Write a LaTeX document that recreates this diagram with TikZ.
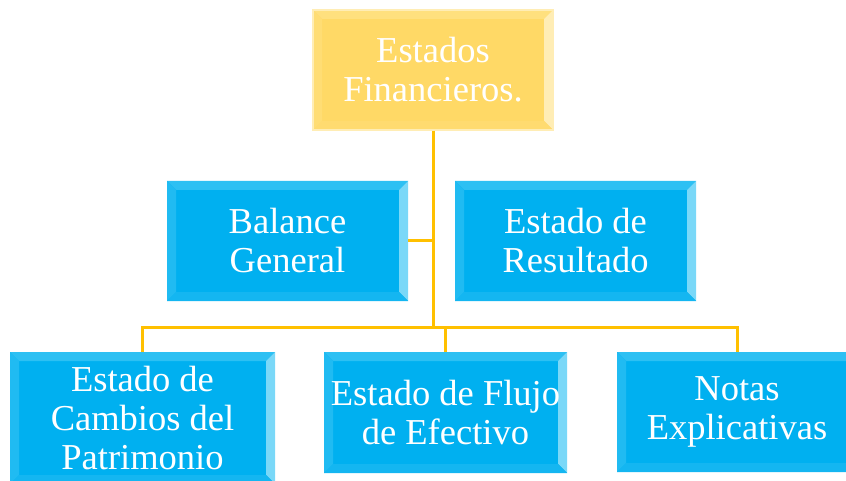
\documentclass[tikz,border=0pt]{standalone}
\usepackage{fontspec}
\setmainfont{Liberation Serif}
\usetikzlibrary{positioning}
\definecolor{azul}{HTML}{00B0F0}
\definecolor{azulclaro}{HTML}{2DC0F3}
\definecolor{azulbrillo}{HTML}{7AD8F8}
\definecolor{azulmedio}{HTML}{14B6F1}
\definecolor{amarillo}{HTML}{FFD966}
\definecolor{amarilloclaro}{HTML}{FFE07E}
\definecolor{amarillobrillo}{HTML}{FFEDB5}
\definecolor{amarillomedio}{HTML}{FFDB70}
\definecolor{naranja}{HTML}{FFC000}

\begin{document}
\begin{tikzpicture}[x=1pt,y=-1pt]
\tikzstyle{every node}+=[inner sep=0pt]
\tikzstyle{caja}=[minimum width=240pt, minimum height=120pt, align=center, text=white, font=\fontsize{36.5}{39}\selectfont]
\tikzstyle{cajaazul}=[caja, fill=azul, path picture={
  \coordinate (bno) at (path picture bounding box.north west);
  \coordinate (bne) at (path picture bounding box.north east);
  \coordinate (bso) at (path picture bounding box.south west);
  \coordinate (bse) at (path picture bounding box.south east);
  \fill [azulclaro] (bno) -- (bne) -- ([shift={(-9,9)}]bne) -- ([shift={(9,9)}]bno) -- cycle;
  \fill [azulclaro!70!azul] (bno) -- (bso) -- ([shift={(9,-9)}]bso) -- ([shift={(9,9)}]bno) -- cycle;
  \fill [azulbrillo] (bne) -- (bse) -- ([shift={(-9,-9)}]bse) -- ([shift={(-9,9)}]bne) -- cycle;
  \fill [azulmedio] (bso) -- (bse) -- ([shift={(-9,-9)}]bse) -- ([shift={(9,-9)}]bso) -- cycle;
}]
\tikzstyle{cajaamarilla}=[caja, fill=amarillo, draw=amarillobrillo, line width=1.5pt, path picture={
  \coordinate (bno) at (path picture bounding box.north west);
  \coordinate (bne) at (path picture bounding box.north east);
  \coordinate (bso) at (path picture bounding box.south west);
  \coordinate (bse) at (path picture bounding box.south east);
  \fill [amarilloclaro] (bno) -- (bne) -- ([shift={(-9,9)}]bne) -- ([shift={(9,9)}]bno) -- cycle;
  \fill [amarilloclaro!60!amarillo] (bno) -- (bso) -- ([shift={(9,-9)}]bso) -- ([shift={(9,9)}]bno) -- cycle;
  \fill [amarillobrillo] (bne) -- (bse) -- ([shift={(-9,-9)}]bse) -- ([shift={(-9,9)}]bne) -- cycle;
  \fill [amarillomedio] (bso) -- (bse) -- ([shift={(-9,-9)}]bse) -- ([shift={(9,-9)}]bso) -- cycle;
}]
\tikzstyle{conector}=[draw=naranja, line width=3pt]
\useasboundingbox (0,0) rectangle (846,481);
% cajas
\node [cajaamarilla] (ef) at (433,70) {Estados\\Financieros.};
\node [cajaazul, minimum width=241pt] (bg) at (287.5,241) {Balance\\General};
\node [cajaazul, minimum width=241pt] (er) at (575.5,241) {Estado de\\Resultado};
\node [cajaazul, minimum width=265pt, minimum height=132pt] (cp) at (142.5,418) {Estado de\\Cambios del\\Patrimonio};
\node [cajaazul, minimum width=243pt, minimum height=121pt] (fe) at (445.5,412.5) {Estado de Flujo\\de Efectivo};
\node [cajaazul] (nt) at (737,412) {Notas\\Explicativas};
% conectores
\coordinate (cruce) at (433,327);
\draw [conector] (ef.south) -- (cruce);
\draw [conector] (bg.east) -- (bg.east -| cruce);
\draw [conector] (cp.north) |- (cruce) -| (nt.north);
\draw [conector] (fe.north) -- (fe.north |- cruce);
\end{tikzpicture}
\end{document}
